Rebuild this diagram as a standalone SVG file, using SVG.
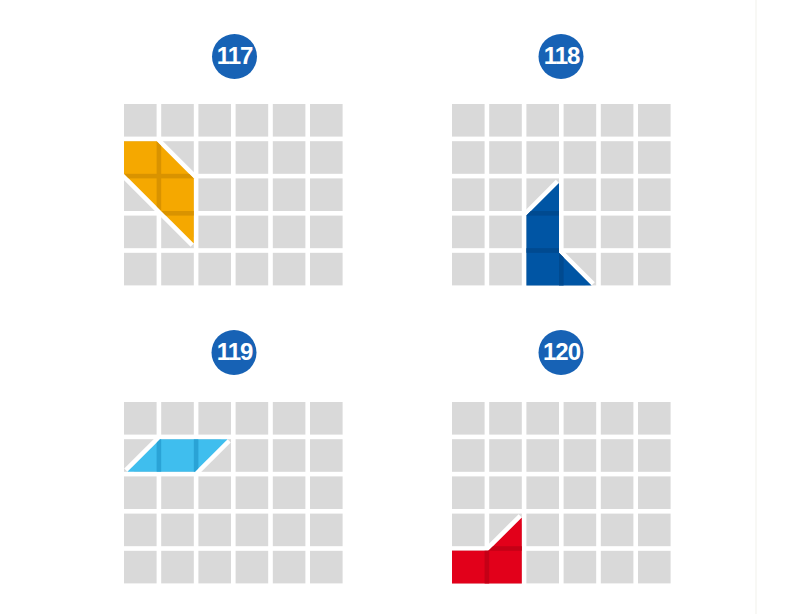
<svg xmlns="http://www.w3.org/2000/svg" xmlns:xlink="http://www.w3.org/1999/xlink" width="794" height="614" viewBox="0 0 794 614">
<style>
.cell{fill:#D9D9D9}
.badge{fill:#1762B5}
.num{fill:#FFFFFF;font-family:"Liberation Sans",Arial,sans-serif;font-weight:bold;font-size:24px;text-anchor:middle;letter-spacing:-1px}
.edge{stroke:#FFFFFF;stroke-width:9;stroke-linecap:butt;fill:none}
</style>
<defs>
<g id="grid">
<rect class="cell" x="0" y="0" width="32.6" height="32.6"/><rect class="cell" x="37.2" y="0" width="32.6" height="32.6"/><rect class="cell" x="74.4" y="0" width="32.6" height="32.6"/><rect class="cell" x="111.6" y="0" width="32.6" height="32.6"/><rect class="cell" x="148.8" y="0" width="32.6" height="32.6"/><rect class="cell" x="186" y="0" width="32.6" height="32.6"/>
<rect class="cell" x="0" y="37.2" width="32.6" height="32.6"/><rect class="cell" x="37.2" y="37.2" width="32.6" height="32.6"/><rect class="cell" x="74.4" y="37.2" width="32.6" height="32.6"/><rect class="cell" x="111.6" y="37.2" width="32.6" height="32.6"/><rect class="cell" x="148.8" y="37.2" width="32.6" height="32.6"/><rect class="cell" x="186" y="37.2" width="32.6" height="32.6"/>
<rect class="cell" x="0" y="74.4" width="32.6" height="32.6"/><rect class="cell" x="37.2" y="74.4" width="32.6" height="32.6"/><rect class="cell" x="74.4" y="74.4" width="32.6" height="32.6"/><rect class="cell" x="111.6" y="74.4" width="32.6" height="32.6"/><rect class="cell" x="148.8" y="74.4" width="32.6" height="32.6"/><rect class="cell" x="186" y="74.4" width="32.6" height="32.6"/>
<rect class="cell" x="0" y="111.6" width="32.6" height="32.6"/><rect class="cell" x="37.2" y="111.6" width="32.6" height="32.6"/><rect class="cell" x="74.4" y="111.6" width="32.6" height="32.6"/><rect class="cell" x="111.6" y="111.6" width="32.6" height="32.6"/><rect class="cell" x="148.8" y="111.6" width="32.6" height="32.6"/><rect class="cell" x="186" y="111.6" width="32.6" height="32.6"/>
<rect class="cell" x="0" y="148.8" width="32.6" height="32.6"/><rect class="cell" x="37.2" y="148.8" width="32.6" height="32.6"/><rect class="cell" x="74.4" y="148.8" width="32.6" height="32.6"/><rect class="cell" x="111.6" y="148.8" width="32.6" height="32.6"/><rect class="cell" x="148.8" y="148.8" width="32.6" height="32.6"/><rect class="cell" x="186" y="148.8" width="32.6" height="32.6"/>
</g>
<clipPath id="c117"><polygon points="124,141.2 156.6,141.2 193.8,178.4 193.8,243.6 124,173.8"/></clipPath>
<clipPath id="c118"><polygon points="559,183 559,252.8 591.6,285.4 526.4,285.4 526.4,215.6"/></clipPath>
<clipPath id="c119"><polygon points="127.4,471.8 160,439.2 227.6,439.2 195,471.8"/></clipPath>
<clipPath id="c120"><polygon points="452,550.8 488.4,550.8 521.8,517.4 521.8,583.4 452,583.4"/></clipPath>
</defs>
<rect x="0" y="0" width="794" height="614" fill="#FFFFFF"/>
<line x1="756" y1="0" x2="756" y2="614" stroke="#F6F6F2" stroke-width="1.5"/>

<g id="p117">
<circle class="badge" cx="234.5" cy="56.5" r="22.5"/>
<text class="num" x="234.5" y="64">117</text>
<use xlink:href="#grid" x="124" y="104"/>
<line class="edge" x1="156.6" y1="141.2" x2="193.8" y2="178.4"/>
<line class="edge" x1="124" y1="173.8" x2="193.8" y2="243.6"/>
<polygon points="124,141.2 156.6,141.2 193.8,178.4 193.8,243.6 124,173.8" fill="#F5A800"/>
<g clip-path="url(#c117)" fill="#D99300">
<rect x="156.6" y="100" width="4.6" height="190"/>
<rect x="120" y="173.8" width="80" height="4.6"/>
<rect x="120" y="211" width="80" height="4.6"/>
</g>
</g>

<g id="p118">
<circle class="badge" cx="561" cy="56.5" r="22.5"/>
<text class="num" x="561.5" y="64">118</text>
<use xlink:href="#grid" x="452" y="104"/>
<line class="edge" x1="526.4" y1="215.6" x2="559" y2="183"/>
<line class="edge" x1="559" y1="252.8" x2="591.6" y2="285.4"/>
<polygon points="559,183 559,252.8 591.6,285.4 526.4,285.4 526.4,215.6" fill="#0055A4"/>
<g clip-path="url(#c118)" fill="#004A90">
<rect x="520" y="211" width="80" height="4.6"/>
<rect x="520" y="248.2" width="80" height="4.6"/>
<rect x="559" y="180" width="4.6" height="110"/>
</g>
</g>

<g id="p119">
<circle class="badge" cx="234" cy="352.5" r="22.5"/>
<text class="num" x="234.5" y="360">119</text>
<use xlink:href="#grid" x="124" y="402"/>
<line class="edge" x1="127.4" y1="471.8" x2="160" y2="439.2"/>
<line class="edge" x1="195" y1="471.8" x2="227.6" y2="439.2"/>
<polygon points="127.4,471.8 160,439.2 227.6,439.2 195,471.8" fill="#3FBEEE"/>
<g clip-path="url(#c119)" fill="#2AA3D6">
<rect x="156.6" y="435" width="4.6" height="40"/>
<rect x="193.8" y="435" width="4.6" height="40"/>
</g>
</g>

<g id="p120">
<circle class="badge" cx="561" cy="352.5" r="22.5"/>
<text class="num" x="561.5" y="360">120</text>
<use xlink:href="#grid" x="452" y="402"/>
<line class="edge" x1="488.4" y1="550.8" x2="521.8" y2="517.4"/>
<polygon points="452,550.8 488.4,550.8 521.8,517.4 521.8,583.4 452,583.4" fill="#E2001A"/>
<g clip-path="url(#c120)" fill="#C40016">
<rect x="484.6" y="510" width="4.6" height="80"/>
<rect x="448" y="546.2" width="80" height="4.6"/>
</g>
</g>

<g id="connectors"/>
</svg>
